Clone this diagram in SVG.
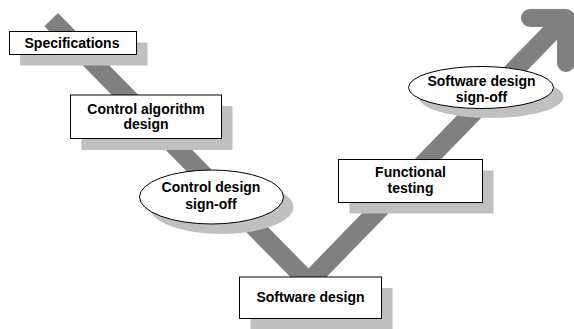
<svg xmlns="http://www.w3.org/2000/svg" width="574" height="329" viewBox="0 0 574 329">
<style>
.band{fill:none;stroke:#808080;stroke-width:19;stroke-linejoin:miter;stroke-linecap:butt}
.head{fill:none;stroke:#808080;stroke-width:18;stroke-linejoin:round;stroke-linecap:round}
.sh{fill:#c0c0c0;stroke:none}
.nd{fill:#ffffff;stroke:#000000;stroke-width:1}
text{font-family:"Liberation Sans",Arial,sans-serif;font-weight:bold;font-size:14px;fill:#000000;text-anchor:middle}
</style>
<rect width="574" height="329" fill="#ffffff"/>
<g id="connectors">
<path class="band" d="M51.2,19.6 L308.5,282 L563,20"/>
<polyline class="head" points="530,18 566,18 566,63"/>
</g>
<g id="specifications">
<rect class="sh" x="20" y="42.5" width="127.5" height="23"/>
<rect class="nd" x="9.5" y="31.5" width="127" height="23"/>
<text x="72" y="48">Specifications</text>
</g>
<g id="control-algorithm-design">
<rect class="sh" x="81.5" y="106" width="151" height="44"/>
<rect class="nd" x="70.5" y="95" width="151" height="43.5"/>
<text x="146" y="113.5">Control algorithm</text>
<text x="146" y="128.5">design</text>
</g>
<g id="control-design-signoff">
<ellipse class="sh" cx="221.5" cy="207" rx="72" ry="27"/>
<ellipse class="nd" cx="211.5" cy="197" rx="72" ry="27"/>
<text x="211" y="192">Control design</text>
<text x="211" y="208.5">sign-off</text>
</g>
<g id="software-design">
<rect class="sh" x="250.5" y="288" width="142" height="41.5"/>
<rect class="nd" x="239.5" y="277" width="142" height="41.5"/>
<text x="310.5" y="302">Software design</text>
</g>
<g id="functional-testing">
<rect class="sh" x="349.5" y="170.5" width="144" height="43"/>
<rect class="nd" x="338.5" y="159.5" width="144" height="43"/>
<text x="410.5" y="177">Functional</text>
<text x="410.5" y="192.5">testing</text>
</g>
<g id="software-design-signoff">
<ellipse class="sh" cx="491" cy="97" rx="72.5" ry="21"/>
<ellipse class="nd" cx="481" cy="87.5" rx="72.5" ry="21"/>
<text x="481.5" y="86">Software design</text>
<text x="481.5" y="101.5">sign-off</text>
</g>
</svg>
